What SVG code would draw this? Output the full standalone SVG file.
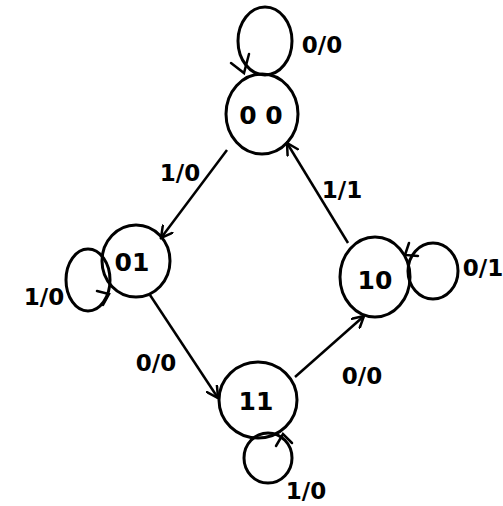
<svg xmlns="http://www.w3.org/2000/svg" width="503" height="506" viewBox="0 0 503 506">
<defs>
<marker id="arr" markerWidth="14" markerHeight="14" refX="12" refY="7" orient="auto" markerUnits="userSpaceOnUse">
<path d="M1,1 L12,7 L1,13" fill="none" stroke="#000" stroke-width="2.5" stroke-linecap="round"/>
</marker>
<style>
.st{fill:none;stroke:#000;stroke-width:3}
.lp{fill:none;stroke:#000;stroke-width:3}
.ed{fill:none;stroke:#000;stroke-width:2.5}
.ah{fill:none;stroke:#000;stroke-width:2.5;stroke-linecap:round}
.nt{font-family:"DejaVu Sans",sans-serif;font-size:25px;font-weight:bold;text-anchor:middle;fill:#000}
.lb{font-family:"DejaVu Sans",sans-serif;font-size:23px;font-weight:bold;text-anchor:middle;fill:#000}
</style>
</defs>
<rect width="503" height="506" fill="#fff"/>
<g id="connectors">
<line class="ed" x1="227" y1="150" x2="161" y2="238" marker-end="url(#arr)"/>
<line class="ed" x1="150" y1="295" x2="218" y2="398" marker-end="url(#arr)"/>
<line class="ed" x1="295" y1="377" x2="364" y2="316" marker-end="url(#arr)"/>
<line class="ed" x1="348" y1="243" x2="287" y2="143" marker-end="url(#arr)"/>
<text class="lb" x="180" y="181">1/0</text>
<text class="lb" x="156" y="371">0/0</text>
<text class="lb" x="362" y="384">0/0</text>
<text class="lb" x="342" y="198">1/1</text>
</g>
<g id="loop-00">
<ellipse class="lp" cx="265" cy="41" rx="27" ry="34"/>
<polyline class="ah" points="231,63 244,73 249,54"/>
<text class="lb" x="322" y="53">0/0</text>
</g>
<g id="loop-01">
<ellipse class="lp" cx="88" cy="280" rx="22" ry="31"/>
<polyline class="ah" points="97,291 109,294 103,305"/>
<text class="lb" x="44" y="305">1/0</text>
</g>
<g id="loop-10">
<ellipse class="lp" cx="433" cy="271" rx="25" ry="28"/>
<polyline class="ah" points="409,243 405,255 418,256"/>
<text class="lb" x="483" y="276">0/1</text>
</g>
<g id="loop-11">
<ellipse class="lp" cx="268" cy="458" rx="24" ry="25"/>
<polyline class="ah" points="276,446 283,434 292,443"/>
<text class="lb" x="306" y="499">1/0</text>
</g>
<g id="node-00">
<ellipse class="st" cx="262" cy="114" rx="36" ry="40"/>
<text class="nt" x="261" y="124">0 0</text>
</g>
<g id="node-01">
<ellipse class="st" cx="136" cy="261" rx="34" ry="36"/>
<text class="nt" x="132" y="271">01</text>
</g>
<g id="node-10">
<ellipse class="st" cx="375" cy="277" rx="35" ry="40"/>
<text class="nt" x="375" y="289">10</text>
</g>
<g id="node-11">
<ellipse class="st" cx="258" cy="400" rx="39" ry="38"/>
<text class="nt" x="256" y="410">11</text>
</g>
</svg>
